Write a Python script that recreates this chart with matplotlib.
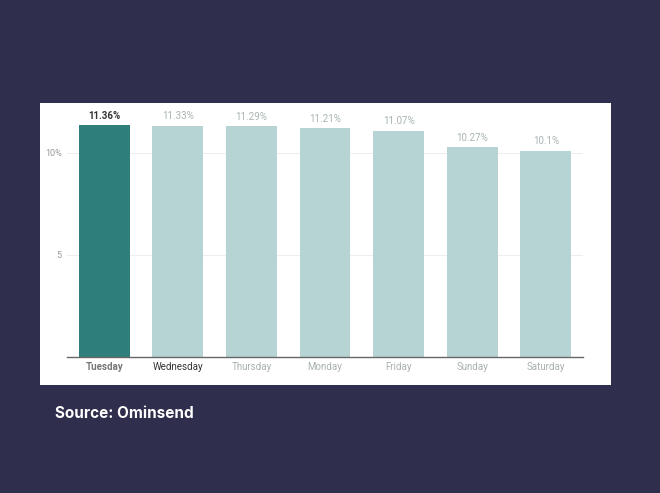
import matplotlib
matplotlib.use('Agg')
import matplotlib.pyplot as plt
from matplotlib.patches import Rectangle

days = ['Tuesday', 'Wednesday', 'Thursday', 'Monday', 'Friday', 'Sunday', 'Saturday']
rates = [11.36, 11.33, 11.29, 11.21, 11.07, 10.27, 10.1]
rate_labels = ['11.36%', '11.33%', '11.29%', '11.21%', '11.07%', '10.27%', '10.1%']
ytick_vals = [5, 10]
ytick_labels = ['5', '10%']

plt.rcParams['font.family'] = ['Roboto', 'DejaVu Sans']

fig = plt.figure(figsize=(6.6, 4.93), dpi=100)
fig.patch.set_facecolor('#2f2e4c')
fig.patches.append(Rectangle((40 / 660, 1 - 385 / 493), 571 / 660, 282 / 493,
                             transform=fig.transFigure, facecolor='white',
                             edgecolor='none', zorder=-10))

ax = fig.add_axes([67.3 / 660, 1 - 356.7 / 493, 515.4 / 660, 251.7 / 493])
ax.set_facecolor('none')

colors = ['#2e7f7c'] + ['#b7d4d4'] * (len(days) - 1)
x = range(len(days))
ax.bar(x, rates, width=0.69, color=colors, zorder=2)

for i, (v, lab) in enumerate(zip(rates, rate_labels)):
    if i == 0:
        ax.text(i, v + 0.22, lab, ha='center', va='bottom', fontsize=7,
                color='#333333', fontweight='bold')
    else:
        ax.text(i, v + 0.22, lab, ha='center', va='bottom', fontsize=7,
                color='#a9b3b3')

ax.set_xlim(-0.5, 6.5)
ax.set_ylim(0, 12.34)
ax.set_yticks(ytick_vals)
ax.set_yticklabels(ytick_labels, fontsize=6.5, color='#999999')
ax.set_xticks(list(x))
ax.set_xticklabels(days, fontsize=7)
tick_colors = ['#777777', '#333333'] + ['#a9b0b0'] * 5
for t, c in zip(ax.get_xticklabels(), tick_colors):
    t.set_color(c)
ax.get_xticklabels()[0].set_fontweight('bold')

ax.tick_params(axis='both', length=0)
ax.tick_params(axis='x', pad=3.5)
ax.tick_params(axis='y', pad=4)
ax.grid(axis='y', color='#eeeeee', lw=0.8, zorder=0)
ax.set_axisbelow(True)
for s in ['top', 'right', 'left']:
    ax.spines[s].set_visible(False)
ax.spines['bottom'].set_color('#666666')
ax.spines['bottom'].set_linewidth(1)

fig.text(55 / 660, 1 - 414 / 493, 'Source: Ominsend', color='white',
         fontsize=11, fontweight='bold', family=['Inter', 'DejaVu Sans'],
         ha='left', va='center')

fig.savefig('out.png', dpi=100, facecolor=fig.get_facecolor())
